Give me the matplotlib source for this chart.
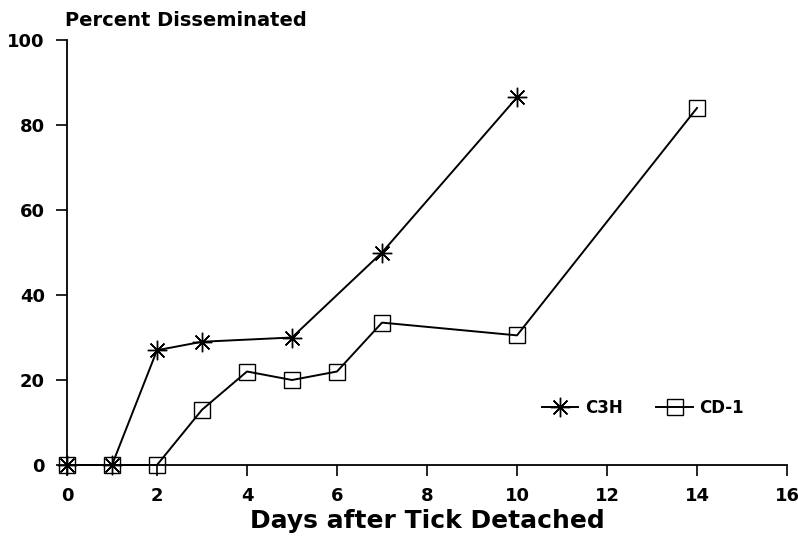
import matplotlib
matplotlib.use("Agg")
import matplotlib.pyplot as plt

c3h_days = [0, 1, 2, 3, 5, 7, 10]
c3h_pct = [0, 0, 27, 29, 30, 50, 86.5]
cd1_days = [0, 1, 2, 3, 4, 5, 6, 7, 10, 14]
cd1_pct = [0, 0, 0, 13, 22, 20, 22, 33.5, 30.5, 84]
x_ticks = [0, 2, 4, 6, 8, 10, 12, 14, 16]
y_ticks = [0, 20, 40, 60, 80, 100]

plt.rcParams['font.family'] = ['DejaVu Sans']
plt.rcParams['font.weight'] = 'bold'

fig = plt.figure(figsize=(7.98, 5.37), dpi=100)
ax = fig.add_axes([67/798, 72/537, 720/798, 425/537])

ax.plot(c3h_days, c3h_pct, color='black', lw=1.4, marker=(8, 2, 0),
        markersize=14, markeredgewidth=1.0, label='C3H', clip_on=False)
ax.plot(cd1_days, cd1_pct, color='black', lw=1.4, marker='s',
        markersize=11, markerfacecolor='none', markeredgewidth=1.0,
        label='CD-1', clip_on=False)

ax.set_xlim(0, 16)
ax.set_ylim(0, 100)
ax.set_xticks(x_ticks)
ax.set_yticks(y_ticks)
ax.spines['top'].set_visible(False)
ax.spines['right'].set_visible(False)
ax.spines['left'].set_linewidth(1.3)
ax.spines['bottom'].set_linewidth(1.3)
ax.tick_params(axis='both', direction='out', length=8, width=1.2,
               labelsize=13, pad=8)
for lab in ax.get_xticklabels() + ax.get_yticklabels():
    lab.set_fontweight('bold')

ax.set_xlabel('Days after Tick Detached', fontsize=18, fontweight='bold',
              labelpad=3)
fig.text(65/798, 1 - 21/537, 'Percent Disseminated', fontsize=14,
         fontweight='bold', va='center', ha='left')

leg = ax.legend(loc='center', bbox_to_anchor=(0.8, 0.135), ncol=2,
                frameon=False, handlelength=2.2, columnspacing=2.0,
                handletextpad=0.4, prop={'weight': 'bold', 'size': 12})

fig.savefig('out.png', dpi=100)
